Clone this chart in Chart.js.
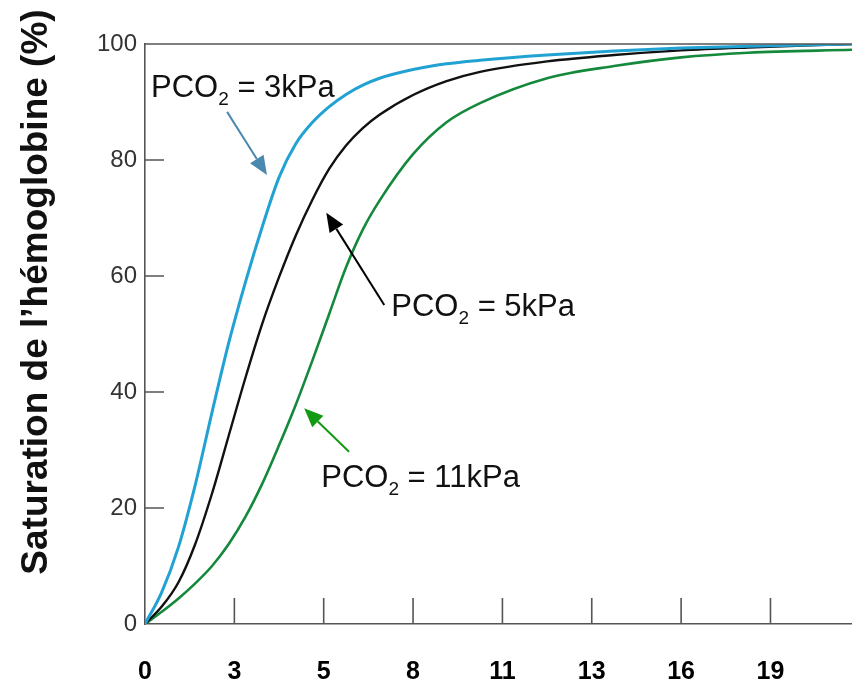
<!DOCTYPE html>
<html><head><meta charset="utf-8">
<script src="https://cdn.jsdelivr.net/npm/chart.js@4/dist/chart.umd.min.js"></script>
<style>html,body{margin:0;padding:0;background:#fff;}#wrap{width:852px;height:683px;position:relative;}</style>
</head><body><div id="wrap"><canvas id="c"></canvas></div>
<script>
// PO2 (kPa) sample points
const pO2 = [0,0.5,1,1.5,2,2.5,3,3.5,4,4.5,5,5.5,6,6.5,7,8,9,10,12,14,16,18,21.1];
// Hemoglobin saturation (%) for each PCO2
const satPCO2_3  = [0,5.5,13.3,24,36.5,48.5,59,68.5,77,82.8,86.5,89.2,91.3,92.9,94.1,95.6,96.6,97.2,98.1,98.8,99.3,99.6,100];
const satPCO2_5  = [0,3,7.2,13.8,22.5,32.5,42.5,51.8,59.8,67,73.2,78.5,82.5,85.5,87.8,91.2,93.6,95.2,97,98.1,98.9,99.4,100];
const satPCO2_11 = [0,2.1,4.4,7,10,13.8,18.5,24.2,30.8,37.8,45.5,53.5,61.5,68,73,81,86.5,89.8,94.1,96.2,97.7,98.5,99];
const seriesLabels = ['PCO2 = 3kPa','PCO2 = 5kPa','PCO2 = 11kPa'];
const seriesColors = ['#22a2d3','#111111','#14893c'];
// axis ticks
const xTickValues = [0,2.667,5.333,8,10.667,13.333,16,18.667];
const xTickLabels = ['0','3','5','8','11','13','16','19'];
const yTickValues = [0,20,40,60,80,100];
const yTitle = 'Saturation de l\u2019h\u00e9moglobine (%)';

const AX = '#555555';
const annotations = [
  {text:'PCO', sub:'2', rest:' = 3kPa', x:0.18, y:90.9, color:'#4b88ad',
   arrow:{from:[2.45,88.3], to:[3.64,77.4]}},
  {text:'PCO', sub:'2', rest:' = 5kPa', x:7.35, y:53.1, color:'#000000',
   arrow:{from:[7.14,55.0], to:[5.41,70.9]}},
  {text:'PCO', sub:'2', rest:' = 11kPa', x:5.26, y:23.7, color:'#139a13',
   arrow:{from:[6.09,29.7], to:[4.75,37.2]}}
];

function arrow(ctx, x1, y1, x2, y2, color){
  const ang = Math.atan2(y2-y1, x2-x1), hl = 19, hw = 8;
  const bx = x2 - hl*Math.cos(ang), by = y2 - hl*Math.sin(ang);
  ctx.strokeStyle = color; ctx.fillStyle = color; ctx.lineWidth = 2;
  ctx.beginPath(); ctx.moveTo(x1,y1); ctx.lineTo(bx,by); ctx.stroke();
  ctx.beginPath(); ctx.moveTo(x2,y2);
  ctx.lineTo(bx + hw*Math.sin(ang), by - hw*Math.cos(ang));
  ctx.lineTo(bx - hw*Math.sin(ang), by + hw*Math.cos(ang));
  ctx.closePath(); ctx.fill();
}

const decor = {
  id:'decor',
  afterDraw(chart){
    const {ctx, chartArea:a, scales:{x, y}} = chart;
    ctx.save();
    ctx.strokeStyle = AX; ctx.lineWidth = 1.6;
    ctx.beginPath();
    ctx.moveTo(a.left, a.top); ctx.lineTo(a.right, a.top);
    yTickValues.forEach(v => { if (v <= 0 || v >= 100) return;
      const py = y.getPixelForValue(v); ctx.moveTo(a.left, py); ctx.lineTo(a.left + 19, py); });
    xTickValues.forEach(v => { if (v <= 0) return;
      const px = x.getPixelForValue(v); ctx.moveTo(px, a.bottom); ctx.lineTo(px, a.bottom - 26); });
    ctx.stroke();
    // annotations
    annotations.forEach(an => {
      arrow(ctx, x.getPixelForValue(an.arrow.from[0]), y.getPixelForValue(an.arrow.from[1]),
                 x.getPixelForValue(an.arrow.to[0]), y.getPixelForValue(an.arrow.to[1]), an.color);
      let px = x.getPixelForValue(an.x), py = y.getPixelForValue(an.y);
      ctx.fillStyle = '#111'; ctx.textBaseline = 'alphabetic'; ctx.textAlign = 'left';
      ctx.font = '31px "Liberation Sans", Arial, sans-serif';
      ctx.fillText(an.text, px, py); px += ctx.measureText(an.text).width;
      ctx.font = '19px "Liberation Sans", Arial, sans-serif';
      ctx.fillText(an.sub, px, py + 8); px += ctx.measureText(an.sub).width;
      ctx.font = '31px "Liberation Sans", Arial, sans-serif';
      ctx.fillText(an.rest, px, py);
    });
    // y title
    ctx.translate(47, 292); ctx.rotate(-Math.PI/2);
    ctx.font = 'bold 37px "Liberation Sans", Arial, sans-serif';
    ctx.fillStyle = '#111'; ctx.textAlign = 'center'; ctx.textBaseline = 'alphabetic';
    ctx.fillText(yTitle, 0, 0);
    ctx.restore();
  }
};

new Chart(document.getElementById('c'), {
  type:'line',
  data:{
    labels: pO2,
    datasets:[satPCO2_3, satPCO2_5, satPCO2_11].map((s,i) => ({
      label: seriesLabels[i],
      data: s.map((v,j) => ({x:pO2[j], y:v})),
      borderColor: seriesColors[i], borderWidth: i===0 ? 3 : (i===1 ? 2.4 : 2.6),
      pointRadius: 0, fill:false, cubicInterpolationMode:'monotone'
    }))
  },
  options:{
    responsive:true, maintainAspectRatio:false, animation:false,
    layout:{padding:{top:44, right:0, left:0, bottom:0}},
    plugins:{legend:{display:false}, tooltip:{enabled:false}},
    scales:{
      x:{type:'linear', min:0, max:21.1,
        afterFit(s){ s.height = 59; },
        afterBuildTicks(s){ s.ticks = xTickValues.map(v => ({value:v})); },
        grid:{drawOnChartArea:false, drawTicks:false},
        border:{color:AX, width:1.6},
        ticks:{padding:33, color:'#000', autoSkip:false, maxRotation:0,
          font:{family:'"Liberation Sans", Arial, sans-serif', size:25, weight:'bold'},
          callback:(v,i) => xTickLabels[i]}
      },
      y:{min:0, max:100,
        afterFit(s){ s.width = 145; },
        afterBuildTicks(s){ s.ticks = yTickValues.map(v => ({value:v})); },
        grid:{drawOnChartArea:false, drawTicks:false},
        border:{color:AX, width:1.6},
        ticks:{padding:8, color:'#333333',
          font:{family:'"Liberation Sans", Arial, sans-serif', size:24}}
      }
    }
  },
  plugins:[decor]
});
</script></body></html>
